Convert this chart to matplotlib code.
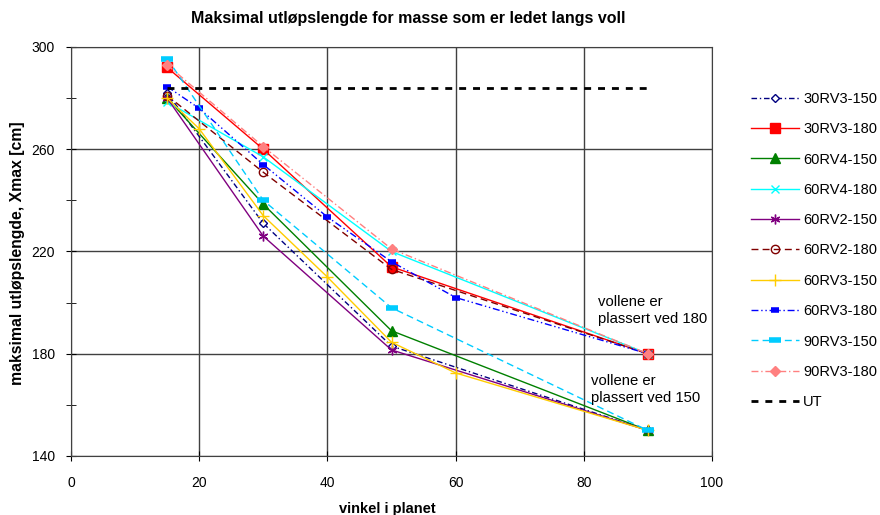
import matplotlib
matplotlib.use("Agg")
import matplotlib.pyplot as plt
from matplotlib.ticker import FixedLocator

plt.rcParams['font.family'] = ['Liberation Sans', 'DejaVu Sans']

x4 = [15, 30, 50, 90]
x7 = [15, 20, 30, 40, 50, 60, 90]

s_30rv3_150 = [282, 231, 183, 150]
s_30rv3_180 = [292, 260, 214, 180]
s_60rv4_150 = [280, 238.5, 189, 150]
s_60rv4_180 = [278.5, 257, 220, 180]
s_60rv2_150 = [280, 226, 181.5, 150]
s_60rv2_180 = [281, 251, 213, 180]
s_60rv3_150 = [280, 268, 234, 210, 184.5, 172.5, 150]
s_60rv3_180 = [284.5, 276, 254, 233.5, 216, 202, 180]
s_90rv3_150 = [295.5, 240, 198, 150]
s_90rv3_180 = [293, 261, 221, 180]
ut_x = [15, 90]
ut_y = [284, 284]

fig = plt.figure(figsize=(8.8, 5.15), dpi=100)
ax = fig.add_axes([71/880, 1-456/515, (712-71)/880, (456-47)/515])

ax.plot(x4, s_30rv3_150, color='#000080', ls=(0, (4, 2, 1, 2)), lw=1, marker='D', ms=4,
        mfc='white', mec='#000080', label='30RV3-150')
ax.plot(x4, s_30rv3_180, color='#ff0000', lw=1, marker='s', ms=7, label='30RV3-180')
ax.plot(x4, s_60rv4_150, color='#008000', lw=1, marker='^', ms=7, label='60RV4-150')
ax.plot(x4, s_60rv4_180, color='#00ffff', lw=1, marker='x', ms=6, label='60RV4-180')
ax.plot(x4, s_60rv2_150, color='#800080', lw=1, marker=(6, 2, 0), ms=7, label='60RV2-150')
ax.plot(x4, s_60rv2_180, color='#800000', ls=(0, (5, 3)), lw=1, marker='o', ms=6,
        mfc='none', mec='#800000', label='60RV2-180')
ax.plot(x7, s_60rv3_150, color='#ffcc00', lw=1, marker='+', ms=8, label='60RV3-150')
ax.plot(x7, s_60rv3_180, color='#0000ff', ls=(0, (5, 2, 1, 2, 1, 2)), lw=1, marker='_', ms=6,
        mew=4, label='60RV3-180')
ax.plot(x4, s_90rv3_150, color='#00ccff', ls=(0, (5, 3)), lw=1, marker='_', ms=8, mew=4,
        label='90RV3-150')
ax.plot(x4, s_90rv3_180, color='#ff8080', ls=(0, (5, 2, 1, 2)), lw=1, marker='D', ms=5,
        label='90RV3-180')
ax.plot(ut_x, ut_y, color='black', ls=(0, (2.5, 2.5)), lw=2, label='UT')

ax.set_xlim(0, 100)
ax.set_ylim(140, 300)
ax.xaxis.set_major_locator(FixedLocator([0, 20, 40, 60, 80, 100]))
ax.yaxis.set_major_locator(FixedLocator([140, 180, 220, 260, 300]))
ax.yaxis.set_minor_locator(FixedLocator([160, 200, 240, 280]))
ax.grid(True, which='major', color='#404040', lw=1)
ax.tick_params(direction='inout', length=7, labelsize=10)
ax.tick_params(axis='x', pad=11)
ax.tick_params(axis='y', pad=8)
ax.tick_params(which='minor', direction='inout', length=7)
for sp in ax.spines.values():
    sp.set_color('#404040')

ax.text(82.2, 203, 'vollene er\nplassert ved 180', fontsize=10.7, va='top', linespacing=1.3)
ax.text(81.1, 172, 'vollene er\nplassert ved 150', fontsize=10.7, va='top', linespacing=1.3)

fig.text(408/880, 1-18/515, 'Maksimal utløpslengde for masse som er ledet langs voll',
         fontsize=11.5, fontweight='bold', ha='center', va='center')
fig.text(387/880, 1-509/515, 'vinkel i planet', fontsize=10.5, fontweight='bold',
         ha='center', va='center')
fig.text(18/880, 1-385/515, 'maksimal utløpslengde, Xmax [cm]', fontsize=11.3,
         fontweight='bold', ha='center', va='bottom', rotation=90)

leg = ax.legend(loc='upper left', bbox_to_anchor=(745/641 - 71/641, 1 - (86-47)/409),
                frameon=False, fontsize=10.5, handlelength=3.3, labelspacing=1.12,
                handletextpad=0.3, borderaxespad=0)

fig.savefig('out.png', dpi=100)
